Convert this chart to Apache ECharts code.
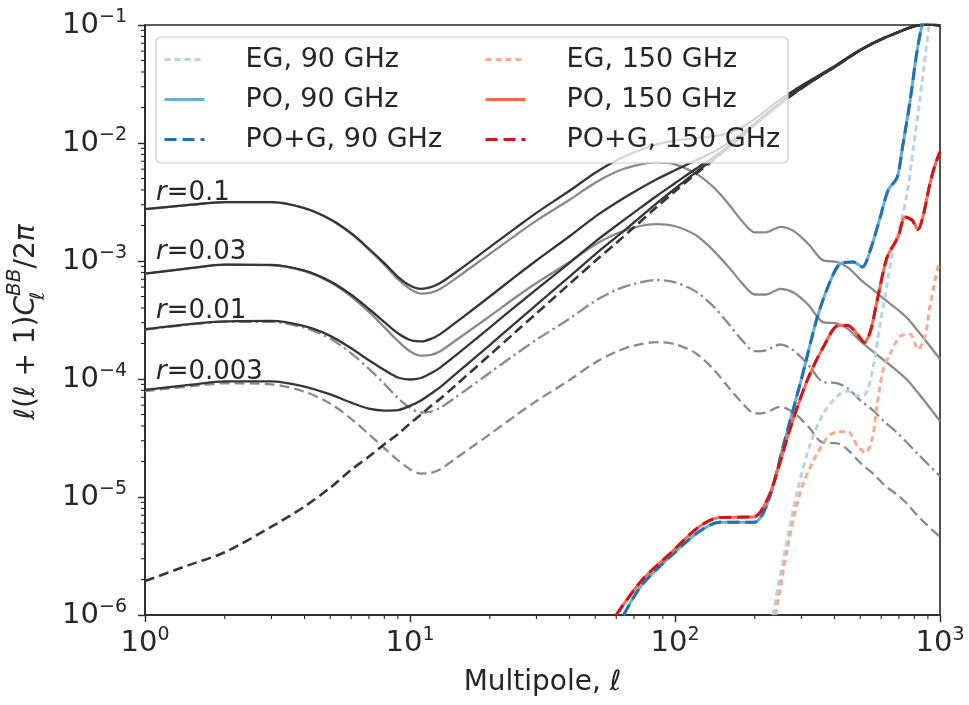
<!DOCTYPE html>
<html>
<head>
<meta charset="utf-8">
<title>B-mode power spectra and foreground residuals</title>
<script src="https://cdn.jsdelivr.net/npm/echarts@6/dist/echarts.min.js"></script>
<style>
  html, body { margin: 0; padding: 0; background: #ffffff; }
  #chart { width: 969px; height: 705px; }
</style>
</head>
<body>
<div id="chart"></div>
<script>
// Multipoles shared by the CMB curves
const ell = [1, 1.5, 2, 3, 4, 5, 6, 7, 8, 9, 10, 11, 12, 13, 15, 20, 25, 30, 40, 50, 60, 70, 85,
  100, 120, 140, 160, 180, 200, 220, 250, 280, 320, 360, 410, 450, 500, 560, 620, 680, 750, 820, 900, 1000];

// Lensing B-modes
const lensingBB = [1.94e-6, 2.7e-6, 3.4e-6, 5.6e-6, 8.3e-6, 1.2e-5, 1.7e-5, 2.2e-5, 2.8e-5, 3.4e-5, 4.2e-5,
  5.0e-5, 5.9e-5, 6.8e-5, 9.0e-5, 1.6e-4, 2.5e-4, 3.6e-4, 6.4e-4, 1.0e-3, 1.42e-3, 1.93e-3, 2.85e-3,
  3.9e-3, 5.5e-3, 7.2e-3, 9.2e-3, 1.15e-2, 1.42e-2, 1.7e-2, 2.15e-2, 2.6e-2, 3.2e-2, 3.8e-2, 4.55e-2,
  5.25e-2, 6.1e-2, 7.0e-2, 7.8e-2, 8.5e-2, 9.3e-2, 0.099, 0.101, 0.099];

// Primordial (tensor) B-modes
const primR0p1 = [2.75e-3, 3.0e-3, 3.15e-3, 3.15e-3, 2.8e-3, 2.25e-3, 1.7e-3, 1.25e-3, 9.3e-4, 7.0e-4, 5.8e-4,
  5.3e-4, 5.4e-4, 5.8e-4, 7.2e-4, 1.15e-3, 1.65e-3, 2.2e-3, 3.3e-3, 4.6e-3, 5.7e-3, 6.4e-3, 6.85e-3,
  6.6e-3, 5.5e-3, 4.2e-3, 3.0e-3, 2.15e-3, 1.75e-3, 1.75e-3, 1.95e-3, 1.8e-3, 1.38e-3, 1.02e-3, 9.8e-4,
  8.8e-4, 7.0e-4, 5.7e-4, 4.7e-4, 4.0e-4, 3.3e-4, 2.6e-4, 2.0e-4, 1.47e-4];
const primR0p03 = [7.8e-4, 8.7e-4, 9.3e-4, 9.2e-4, 8.2e-4, 6.6e-4, 5.0e-4, 3.7e-4, 2.75e-4, 2.1e-4, 1.72e-4,
  1.58e-4, 1.6e-4, 1.72e-4, 2.15e-4, 3.4e-4, 4.9e-4, 6.5e-4, 9.8e-4, 1.38e-3, 1.7e-3, 1.92e-3, 2.05e-3,
  1.97e-3, 1.65e-3, 1.22e-3, 8.8e-4, 6.4e-4, 5.2e-4, 5.2e-4, 5.8e-4, 5.4e-4, 4.2e-4, 3.05e-4, 2.95e-4,
  2.65e-4, 2.1e-4, 1.7e-4, 1.42e-4, 1.2e-4, 9.9e-5, 7.8e-5, 6.0e-5, 4.4e-5];
const primR0p01 = [2.62e-4, 2.9e-4, 3.05e-4, 3.05e-4, 2.72e-4, 2.2e-4, 1.65e-4, 1.22e-4, 9.1e-5, 6.9e-5, 5.7e-5,
  5.2e-5, 5.3e-5, 5.7e-5, 7.1e-5, 1.13e-4, 1.62e-4, 2.15e-4, 3.25e-4, 4.6e-4, 5.7e-4, 6.4e-4, 6.9e-4,
  6.6e-4, 5.5e-4, 4.1e-4, 2.9e-4, 2.1e-4, 1.72e-4, 1.75e-4, 1.96e-4, 1.75e-4, 1.3e-4, 9.5e-5, 9.2e-5,
  8.3e-5, 6.6e-5, 5.4e-5, 4.3e-5, 3.6e-5, 2.9e-5, 2.35e-5, 1.9e-5, 1.5e-5];
const primR0p003 = [7.9e-5, 8.7e-5, 9.2e-5, 9.0e-5, 7.8e-5, 6.2e-5, 4.6e-5, 3.4e-5, 2.6e-5, 2.05e-5, 1.72e-5,
  1.58e-5, 1.6e-5, 1.72e-5, 2.15e-5, 3.4e-5, 4.9e-5, 6.5e-5, 9.8e-5, 1.38e-4, 1.7e-4, 1.92e-4, 2.05e-4,
  1.97e-4, 1.65e-4, 1.2e-4, 8.4e-5, 6.2e-5, 5.1e-5, 5.2e-5, 5.8e-5, 5.2e-5, 3.9e-5, 2.9e-5, 2.85e-5,
  2.5e-5, 1.95e-5, 1.57e-5, 1.25e-5, 1.07e-5, 8.8e-6, 7.0e-6, 5.7e-6, 4.6e-6];

// Total B-modes (primordial + lensing)
const totalR0p1 = [2.75e-3, 3.0e-3, 3.15e-3, 3.16e-3, 2.81e-3, 2.26e-3, 1.72e-3, 1.27e-3, 9.6e-4, 7.35e-4, 6.2e-4,
  5.8e-4, 6.0e-4, 6.5e-4, 8.1e-4, 1.31e-3, 1.9e-3, 2.56e-3, 3.94e-3, 5.6e-3, 7.12e-3, 8.33e-3, 9.7e-3,
  1.05e-2, 1.1e-2, 1.14e-2, 1.22e-2, 1.37e-2, 1.6e-2, 1.88e-2, 2.35e-2, 2.78e-2, 3.34e-2, 3.9e-2, 4.65e-2,
  5.34e-2, 6.17e-2, 7.06e-2, 7.85e-2, 8.54e-2, 9.33e-2, 0.0993, 0.1012, 0.0991];
const totalR0p03 = [7.82e-4, 8.73e-4, 9.33e-4, 9.26e-4, 8.28e-4, 6.72e-4, 5.17e-4, 3.92e-4, 3.03e-4, 2.44e-4, 2.14e-4,
  2.08e-4, 2.19e-4, 2.4e-4, 3.05e-4, 5.0e-4, 7.4e-4, 1.01e-3, 1.62e-3, 2.38e-3, 3.12e-3, 3.85e-3, 4.9e-3,
  5.87e-3, 7.15e-3, 8.42e-3, 1.01e-2, 1.21e-2, 1.47e-2, 1.75e-2, 2.21e-2, 2.65e-2, 3.24e-2, 3.83e-2, 4.58e-2,
  5.28e-2, 6.12e-2, 7.02e-2, 7.81e-2, 8.51e-2, 9.31e-2, 0.0991, 0.101, 0.099];
const totalR0p01 = [2.64e-4, 2.93e-4, 3.08e-4, 3.11e-4, 2.8e-4, 2.32e-4, 1.82e-4, 1.44e-4, 1.19e-4, 1.03e-4, 9.9e-5,
  1.02e-4, 1.12e-4, 1.25e-4, 1.61e-4, 2.73e-4, 4.12e-4, 5.75e-4, 9.65e-4, 1.46e-3, 1.99e-3, 2.57e-3, 3.54e-3,
  4.56e-3, 6.05e-3, 7.61e-3, 9.49e-3, 1.17e-2, 1.44e-2, 1.72e-2, 2.17e-2, 2.62e-2, 3.21e-2, 3.81e-2, 4.56e-2,
  5.26e-2, 6.11e-2, 7.0e-2, 7.8e-2, 8.5e-2, 9.3e-2, 0.099, 0.101, 0.099];
const totalR0p003 = [8.1e-5, 8.97e-5, 9.54e-5, 9.56e-5, 8.63e-5, 7.4e-5, 6.3e-5, 5.6e-5, 5.4e-5, 5.45e-5, 5.92e-5,
  6.58e-5, 7.5e-5, 8.52e-5, 1.12e-4, 1.94e-4, 2.99e-4, 4.25e-4, 7.38e-4, 1.14e-3, 1.59e-3, 2.12e-3, 3.06e-3,
  4.1e-3, 5.67e-3, 7.32e-3, 9.28e-3, 1.16e-2, 1.43e-2, 1.71e-2, 2.16e-2, 2.61e-2, 3.2e-2, 3.8e-2, 4.55e-2,
  5.25e-2, 6.1e-2, 7.0e-2, 7.8e-2, 8.5e-2, 9.3e-2, 0.099, 0.101, 0.099];

// Foreground residuals, [multipole, D_ell]
const eg90 = [[234, 1e-6], [258, 3.2e-6], [291, 1.18e-5], [325, 2.88e-5], [364, 5.15e-5], [411, 7.2e-5],
  [448, 7.9e-5], [488, 7.2e-5], [523, 7.4e-5], [560, 1.28e-4], [595, 2.95e-4], [632, 6.5e-4], [666, 1.24e-3],
  [710, 2.1e-3], [752, 3.8e-3], [791, 8.7e-3], [830, 1.9e-2], [870, 4.5e-2], [910, 0.1], [960, 0.24]];
const po90 = [[64, 1e-6], [75, 1.8e-6], [97, 3.2e-6], [122, 5.0e-6], [147, 6.1e-6], [199, 6.1e-6], [224, 9.0e-6],
  [258, 2.88e-5], [300, 1.0e-4], [345, 3.39e-4], [387, 6.9e-4], [421, 9.5e-4], [471, 9.8e-4], [509, 8.9e-4],
  [546, 1.24e-3], [595, 2.36e-3], [638, 4.0e-3], [689, 5.1e-3], [719, 8.7e-3], [771, 2.28e-2], [819, 6.0e-2],
  [855, 0.1], [900, 0.17]];
const pog90 = po90;
const eg150 = [[240, 1e-6], [267, 3.9e-6], [300, 1.18e-5], [345, 2.37e-5], [387, 3.4e-5], [448, 3.6e-5],
  [488, 2.7e-5], [523, 2.37e-5], [555, 3.1e-5], [580, 6.25e-5], [611, 1.21e-4], [649, 1.65e-4], [707, 2.3e-4],
  [771, 2.39e-4], [826, 1.78e-4], [878, 2.3e-4], [916, 4.1e-4], [982, 8.9e-4], [1000, 9.8e-4]];
const po150 = [[60, 1.0e-6], [75, 1.97e-6], [97, 3.4e-6], [122, 5.5e-6], [147, 6.7e-6], [199, 6.8e-6],
  [224, 9.7e-6], [245, 1.74e-5], [274, 4.0e-5], [317, 1.0e-4], [364, 1.89e-4], [414, 2.84e-4], [448, 2.84e-4],
  [488, 2.39e-4], [518, 2.04e-4], [546, 2.53e-4], [580, 4.7e-4], [632, 1.08e-3], [695, 1.6e-3], [739, 2.36e-3],
  [785, 2.22e-3], [826, 1.85e-3], [863, 2.4e-3], [916, 4.5e-3], [960, 6.6e-3], [1000, 8.4e-3]];
const pog150 = po150;

// Curve annotations
const rLabels = ['0.1', '0.03', '0.01', '0.003'];

const FONT = 'DejaVu Sans';
const INK = '#262626';

function withEll(values) { return ell.map((l, i) => [l, values[i]]); }

function curve(name, data, color, width, dash, z) {
  return {
    type: 'line', name: name, data: data, symbol: 'none', showSymbol: false,
    smooth: 0.3, clip: true, silent: true, z: z,
    lineStyle: { color: color, width: width, type: dash || 'solid', cap: 'butt', join: 'round' },
    itemStyle: { color: color },
    emphasis: { disabled: true }
  };
}

function powerLabel(v) {
  const e = Math.round(Math.log10(v));
  return '{b|10}{s|' + (e < 0 ? '\u2212' + (-e) : String(e)) + '}';
}
const tickRich = {
  b: { fontFamily: FONT, fontSize: 29, color: INK, lineHeight: 34, verticalAlign: 'middle' },
  s: { fontFamily: FONT, fontSize: 19, color: INK, lineHeight: 20, verticalAlign: 'top' }
};

const GRAY = '#8a8a8a';
const DARK = '#353535';
const dashed = [10, 5];
const dashDot = [13, 4, 2.5, 4];
const dotted = [6, 4];

const series = [
  curve('primR0p1', withEll(primR0p1), GRAY, 2.3, 'solid', 2),
  curve('primR0p03', withEll(primR0p03), GRAY, 2.3, 'solid', 2),
  curve('primR0p01', withEll(primR0p01), GRAY, 2.3, dashDot, 2),
  curve('primR0p003', withEll(primR0p003), GRAY, 2.3, dashed, 2),
  curve('totalR0p1', withEll(totalR0p1), DARK, 2.3, 'solid', 2),
  curve('totalR0p03', withEll(totalR0p03), DARK, 2.3, 'solid', 2),
  curve('totalR0p01', withEll(totalR0p01), DARK, 2.3, 'solid', 2),
  curve('totalR0p003', withEll(totalR0p003), DARK, 2.3, 'solid', 2),
  curve('lensing', withEll(lensingBB), DARK, 2.6, dashed, 2),
  curve('EG, 90 GHz', eg90, '#b5d4ea', 3, dotted, 2),
  curve('PO, 90 GHz', po90, '#6aaed6', 3, 'solid', 2),
  curve('PO+G, 90 GHz', pog90, '#2171b5', 3, [12, 6], 2),
  curve('EG, 150 GHz', eg150, '#f9ab8f', 3, dotted, 2),
  curve('PO, 150 GHz', po150, '#fb6a4a', 3, 'solid', 2),
  curve('PO+G, 150 GHz', pog150, '#cb181d', 3, [12, 6], 2)
];

const legendText = {
  fontFamily: FONT, fontSize: 27, color: INK, lineHeight: 27,
  rich: { g: { width: 36 } }
};
function legendBlock(names, left) {
  return {
    data: names, orient: 'vertical', left: left, top: 46, padding: 0,
    itemWidth: 40, itemHeight: 27, itemGap: 13, selectedMode: false,
    itemStyle: { opacity: 0 },
    lineStyle: { width: 3 },
    textStyle: legendText, formatter: n => '{g| }' + n, z: 6
  };
}

const chart = echarts.init(document.getElementById('chart'), null, { renderer: 'canvas' });

chart.setOption({
  animation: false,
  backgroundColor: '#ffffff',
  grid: { left: 145, right: 29, top: 25, bottom: 85, show: true, borderColor: INK, borderWidth: 1.6, backgroundColor: 'transparent' },
  xAxis: {
    type: 'log', logBase: 10, min: 1, max: 1000, splitNumber: 3,
    axisLine: { show: true, lineStyle: { color: INK, width: 1.6 } },
    axisTick: { show: true, length: 7, lineStyle: { color: INK, width: 1.4 } },
    axisLabel: { margin: 11, formatter: powerLabel, rich: tickRich, color: INK },
    splitLine: { show: false },
    name: 'Multipole, {i|\u2113}', nameLocation: 'middle', nameGap: 51,
    nameTextStyle: {
      fontFamily: FONT, fontSize: 28, color: INK, lineHeight: 34,
      rich: { i: { fontFamily: FONT, fontSize: 28, fontStyle: 'italic', color: INK, lineHeight: 34 } }
    }
  },
  yAxis: {
    type: 'log', logBase: 10, min: 1e-6, max: 1e-1,
    axisLine: { show: true, lineStyle: { color: INK, width: 1.6 } },
    axisTick: { show: true, length: 7, lineStyle: { color: INK, width: 1.4 } },
    axisLabel: { margin: 18, formatter: powerLabel, rich: tickRich, color: INK },
    splitLine: { show: false }
  },
  legend: [
    legendBlock(['EG, 90 GHz', 'PO, 90 GHz', 'PO+G, 90 GHz'], 163),
    legendBlock(['EG, 150 GHz', 'PO, 150 GHz', 'PO+G, 150 GHz'], 484)
  ],
  series: series
});

// Minor log ticks, frame of the legend and text annotations
function buildGraphics() {
  const els = [];
  for (let d = 0; d < 3; d++) {
    for (let k = 2; k <= 9; k++) {
      const p = chart.convertToPixel({ gridIndex: 0 }, [k * Math.pow(10, d), 1e-6]);
      els.push({ type: 'line', silent: true, z: 5, shape: { x1: p[0], y1: p[1], x2: p[0], y2: p[1] + 4 },
        style: { stroke: INK, lineWidth: 1.1 } });
    }
  }
  for (let d = -6; d < -1; d++) {
    for (let k = 2; k <= 9; k++) {
      const p = chart.convertToPixel({ gridIndex: 0 }, [1, k * Math.pow(10, d)]);
      els.push({ type: 'line', silent: true, z: 5, shape: { x1: p[0] - 4, y1: p[1], x2: p[0], y2: p[1] },
        style: { stroke: INK, lineWidth: 1.1 } });
    }
  }
  els.push({ type: 'rect', silent: true, z: 3,
    shape: { x: 156, y: 37, width: 632, height: 126, r: 5 },
    style: { fill: 'rgba(255,255,255,0.8)', stroke: '#cccccc', lineWidth: 1.2 } });

  const rTop = [193, 252.5, 311, 372.5];
  rLabels.forEach((r, i) => {
    els.push({ type: 'text', silent: true, z: 6, x: 156, y: rTop[i],
      style: { text: '{i|r}=' + r, fontFamily: FONT, fontSize: 26, fill: INK, align: 'left', verticalAlign: 'middle',
        rich: { i: { fontFamily: FONT, fontSize: 26, fontStyle: 'italic', fill: INK } } } });
  });

  const base = { fontFamily: FONT, fontSize: 28, fill: INK, lineHeight: 44 };
  els.push({ type: 'text', silent: true, z: 6, x: 27, y: 322, rotation: Math.PI / 2,
    style: {
      text: '{i|\u2113}({i|\u2113} + 1){i|C}{sb|\u2113}{sp|BB}/2{i|\u03c0}',
      fontFamily: FONT, fontSize: 28, fill: INK, align: 'center', verticalAlign: 'middle',
      rich: {
        n: base,
        i: Object.assign({}, base, { fontStyle: 'italic' }),
        sb: { fontFamily: FONT, fontSize: 20, fontStyle: 'italic', fill: INK, lineHeight: 20, width: 0, verticalAlign: 'bottom' },
        sp: { fontFamily: FONT, fontSize: 20, fontStyle: 'italic', fill: INK, lineHeight: 20, verticalAlign: 'top' }
      }
    } });
  return els;
}

chart.setOption({ graphic: { elements: buildGraphics() } });
</script>
</body>
</html>
